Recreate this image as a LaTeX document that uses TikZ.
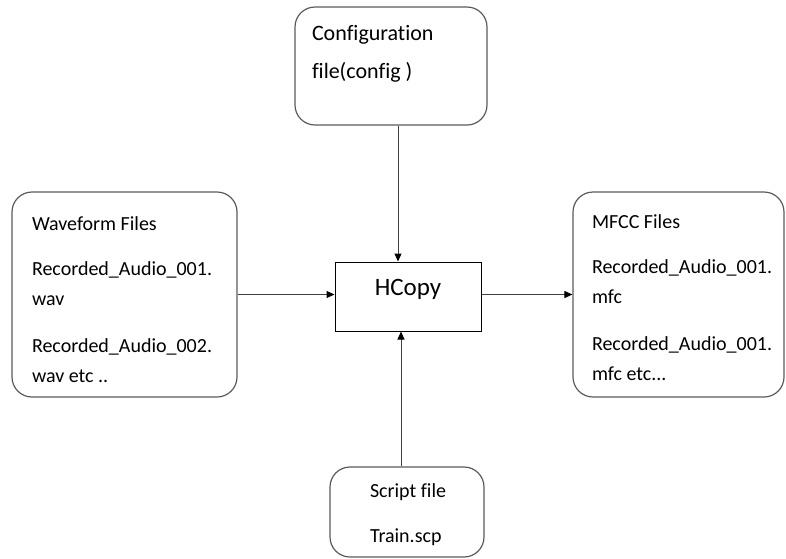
\documentclass[tikz,border=0pt]{standalone}
\usepackage{fontspec}
\setmainfont{Carlito}[Ligatures=NoCommon]
\usepackage{xcolor}
\usepackage{tikz}
\usetikzlibrary{arrows.meta,positioning,calc}
\definecolor{hcopyInk}{HTML}{000000}
\definecolor{hcopyGrey}{HTML}{5A5A5A}
\definecolor{hcopyLine}{HTML}{404040}
% top-aligned body of a file box: width, height, first baseline, lines
\newcommand{\filebody}[4]{%
  \parbox[c][#2][t]{#1}{\raggedright\hyphenpenalty=10000\exhyphenpenalty=10000
    \rule{0pt}{#3}#4}}
\tikzset{
  filebox/.style={
    rectangle,
    rounded corners=20pt,
    draw=hcopyGrey,
    line width=1.2pt,
    inner ysep=0pt,
    font=\fontsize{20}{30}\selectfont
  },
  toolbox/.style={
    rectangle,
    draw=hcopyInk,
    line width=1pt,
    minimum width=146pt,
    minimum height=69pt,
    text height=12pt,
    text depth=15pt,
    font=\fontsize{25}{30}\selectfont
  },
  arrow/.style={
    -{Triangle[length=8pt,width=7pt,color=hcopyInk]},
    line width=1pt,
    draw=hcopyLine
  }
}

\begin{document}
\begin{tikzpicture}[x=1pt,y=-1pt]
  \useasboundingbox (0,0) rectangle (786,558);
  \node[filebox,inner xsep=17pt] (config) at (391,66)
    {\filebody{158pt}{118pt}{33pt}{\fontsize{22}{38}\selectfont Configuration\\file(config )}};
  \node[toolbox] (hcopy) at (408,296.5) {HCopy};
  \node[filebox,inner xsep=20pt] (wave) at (124.5,294.5)
    {\filebody{185pt}{205pt}{38pt}{Waveform Files\\[15pt]Recorded\_Audio\_001.\\wav\\[17pt]Recorded\_Audio\_002.\\wav etc ..}};
  \node[filebox,inner xsep=19pt] (mfcc) at (678.5,294.5)
    {\filebody{173pt}{205pt}{36pt}{MFCC Files\\[15pt]Recorded\_Audio\_001.\\mfc\\[17pt]Recorded\_Audio\_001.\\mfc etc...}};
  \node[filebox,inner xsep=20pt] (script) at (407,512)
    {\filebody{114pt}{90pt}{30pt}{\hspace*{20pt}Script file\\[15pt]\hspace*{20pt}Train.scp}};
  \draw[arrow] ([xshift=7pt]config.south) -- ([xshift=-10pt]hcopy.north);
  \draw[arrow] (wave.east) -- (wave.east -| hcopy.west);
  \draw[arrow] (hcopy.east |- wave.east) -- (mfcc.west);
  \draw[arrow] ([xshift=-6pt]script.north) -- ([xshift=-7pt]hcopy.south);
\end{tikzpicture}
\end{document}
